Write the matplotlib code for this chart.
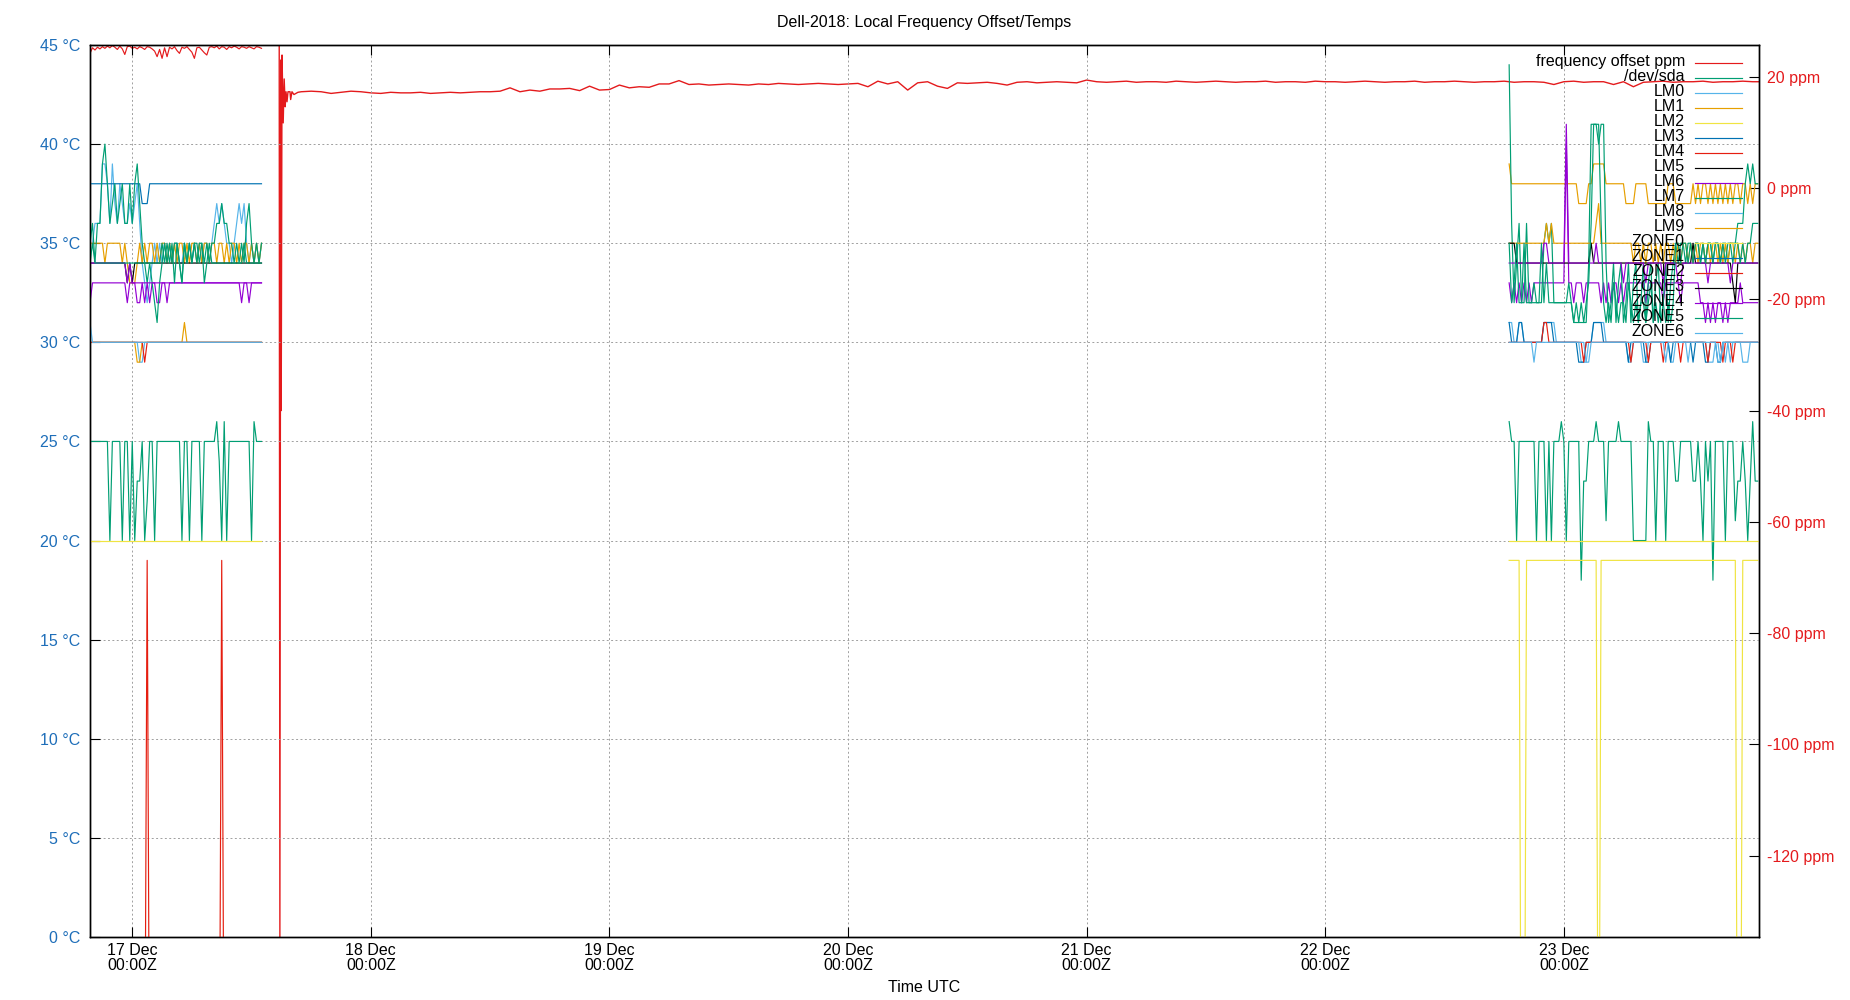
import numpy as np
import pandas as pd
import matplotlib
matplotlib.use("Agg")
import matplotlib.pyplot as plt
import matplotlib.dates as mdates
from matplotlib.lines import Line2D

plt.rcParams['font.family'] = ['Liberation Sans', 'DejaVu Sans']

def rle(pairs):
    return [v for v, n in pairs for _ in range(n)]

# ---------------- data ----------------
TITLE = "Dell-2018: Local Frequency Offset/Temps"
XLABEL = "Time UTC"
X_START = "2018-12-16 19:45"
X_END = "2018-12-23 19:38"
SEG1_START = "2018-12-16 19:45"   # first temperature/frequency block, 15 min samples
SEG2_START = "2018-12-22 18:30"   # second temperature block, 15 min samples
SPIKE_BASE = "2018-12-17 14:00"
HOURLY_START = "2018-12-17 17:00"

left_ticks = [0, 5, 10, 15, 20, 25, 30, 35, 40, 45]
right_ticks = [-120, -100, -80, -60, -40, -20, 0, 20]
ppm_range = (-134.6, 25.7)
temp_range = (0, 45)

# frequency offset (ppm)
freq_seg1 = [24.2, 25.2, 24.8, 25.3, 25.0, 25.4, 25.1, 25.5, 25.2, 25.6,
             25.3, 24.9, 25.5, 25.0, 24.0, 25.4, 25.5, 25.1, 25.3, 25.0,
             25.4, 25.2, 24.9, 25.4, 25.3, 25.0, 24.6, 23.6, 24.9, 23.3,
             25.2, 23.6, 25.3, 25.0, 25.4, 24.7, 24.2, 25.3, 25.1, 25.4,
             24.9, 24.4, 23.3, 25.2, 25.3, 24.8, 24.3, 23.9, 25.3, 25.4,
             25.2, 25.5, 25.0, 25.4, 25.3, 24.9, 25.4, 25.2, 25.5, 25.3,
             25.0, 25.4, 25.3, 25.1, 25.4, 25.2, 25.0, 25.4, 25.3, 25.1]
freq_spike_min = [47, 51, 56, 59, 64, 71, 77, 83, 88, 94, 100, 112, 116, 124, 136, 148, 160]
freq_spike = [25.5, -134.6, 23.0, -40.0, 23.9, 11.7, 19.6, 14.6, 17.3, 15.5,
              17.3, 17.3, 15.9, 17.3, 16.8, 17.0, 17.2]
freq_hourly = [17.3, 17.4, 17.3, 17.0, 17.2, 17.4, 17.3, 17.1, 17.0, 17.2,
               17.1, 17.1, 17.2, 17.0, 17.1, 17.2, 17.1, 17.2, 17.3, 17.3,
               17.4, 18.0, 17.3, 17.6, 17.4, 17.8, 17.8, 17.9, 17.5, 18.3,
               17.6, 17.7, 18.5, 18.0, 18.2, 18.1, 18.7, 18.7, 19.3, 18.6,
               18.7, 18.5, 18.6, 18.7, 18.6, 18.5, 18.7, 18.6, 18.8, 18.7,
               18.6, 18.7, 18.8, 18.7, 18.6, 18.7, 18.8, 18.2, 19.2, 18.7,
               19.1, 17.6, 18.9, 19.1, 18.3, 17.9, 18.9, 18.8, 18.9, 19.0,
               18.8, 18.5, 19.0, 19.1, 18.9, 19.0, 19.1, 19.0, 18.9, 19.4,
               19.1, 19.0, 19.1, 19.2, 19.0, 19.1, 19.1, 19.0, 19.2, 19.1,
               19.0, 19.1, 19.2, 19.1, 19.0, 19.1, 19.1, 19.2, 19.0, 19.1,
               19.1, 19.0, 19.2, 19.1, 19.1, 19.0, 19.1, 19.2, 19.1, 19.0,
               19.1, 19.1, 19.2, 19.0, 19.1, 19.1, 19.2, 19.1, 19.0, 19.1,
               19.1, 19.2, 19.0, 19.1, 19.1, 19.0, 18.6, 19.1, 19.2, 19.0,
               19.1, 19.1, 18.6, 19.1, 18.2, 19.0, 19.1, 19.2, 19.0, 19.1,
               19.1, 19.2, 19.0, 19.1, 19.1, 19.2, 19.1, 19.1]

# temperatures (deg C), block 1 and block 2
sda_1 = rle([(25, 8), (20, 1), (25, 4), (20, 1), (25, 2), (20, 1), (25, 1), (20, 1), (23, 2), (25, 1),
             (20, 1), (22, 1), (25, 2), (20, 1), (25, 10), (20, 1), (25, 2), (20, 1), (25, 4), (20, 1),
             (25, 5), (26, 1), (24, 1), (20, 1), (26, 1), (20, 1), (25, 9), (20, 1), (26, 1), (25, 3)])
sda_2 = rle([(26, 1), (25, 2), (20, 1), (25, 7), (20, 1), (25, 3), (20, 1), (25, 1), (20, 1), (25, 3),
             (26, 1), (25, 1), (20, 1), (25, 5), (18, 1), (23, 2), (25, 3), (26, 1), (25, 3), (21, 1),
             (25, 4), (26, 1), (25, 5), (20, 6), (26, 1), (25, 2), (20, 1), (25, 3), (20, 1), (25, 3),
             (23, 2), (25, 5), (23, 2), (25, 1), (23, 1), (20, 1), (25, 1), (23, 1), (25, 1), (18, 1),
             (25, 4), (20, 1), (25, 3), (21, 1), (23, 2), (25, 1), (23, 1), (20, 1), (23, 1), (26, 1),
             (23, 2)])
lm0_1 = [35, 35, 36, 36, 36, 39, 39, 38, 36, 39, 37, 36, 38, 37, 36, 36, 37, 36, 37, 38,
         36, 34, 33, 32, 33, 34, 35, 34, 35, 34, 35, 34, 35, 34, 35, 35, 34, 34, 35, 34,
         35, 34, 35, 34, 35, 34, 35, 35, 34, 35, 36, 37, 36, 37, 36, 35, 35, 34, 35, 36,
         37, 36, 37, 35, 34, 35, 34, 35, 34, 35]
lm0_2 = rle([(31, 2), (30, 2), (31, 2), (30, 8), (31, 5), (30, 10), (29, 3), (30, 2), (31, 5), (30, 9),
             (29, 2), (30, 4), (29, 2), (30, 9), (29, 2), (30, 5), (29, 1), (30, 7), (29, 3), (30, 2),
             (29, 1), (30, 1), (29, 1), (30, 1), (29, 1), (30, 4), (29, 3), (30, 4)])
lm1_1 = [35, 35, 35, 35, 35, 35, 34, 35, 35, 35, 35, 35, 35, 34, 35, 34, 33, 33, 33, 34,
         35, 34, 35, 34, 35, 35, 34, 35, 34, 35, 35, 34, 35, 34, 35, 34, 35, 35, 34, 35,
         34, 35, 35, 34, 35, 34, 35, 35, 34, 35, 35, 34, 35, 35, 34, 35, 34, 35, 35, 34,
         35, 34, 35, 35, 34, 35, 34, 35, 34, 35]
lm1_2 = rle([(39, 1), (38, 27), (37, 4), (38, 2), (39, 5), (38, 8), (37, 4), (38, 5), (37, 8), (38, 3),
             (37, 7)]) + [38, 37, 38, 37, 38, 38, 37, 38, 37, 38, 37, 38, 37, 38, 37, 38, 37, 38, 38,
                          37, 38, 38, 37, 38, 37, 38, 38]
lm2_1 = rle([(20, 70)])
lm2_2 = rle([(20, 101)])
lm3_1 = rle([(38, 21), (37, 3), (38, 46)])
lm3_2 = []
lm4_1 = rle([(-10, 23), (19, 1), (-10, 29), (19, 1), (-10, 16)])
lm4_2 = []
lm5_1 = rle([(34, 15), (33, 1), (34, 1), (33, 1), (34, 52)])
lm5_2 = []
lm6_1 = rle([(32, 1), (33, 14), (32, 1), (33, 3), (32, 2), (33, 1), (32, 1), (33, 1), (32, 1), (33, 2),
             (32, 2), (33, 2), (32, 1), (33, 29), (32, 1), (33, 2), (32, 1), (33, 5)])
lm6_2 = ([33, 32, 33, 32, 33, 32, 33, 32, 33, 32, 33] + rle([(33, 12)]) + [40] +
         [33, 33, 32, 33, 33, 33, 32, 33, 33, 33, 33, 33] +
         [33, 32, 33, 32, 33, 32, 33, 33, 32, 33, 32, 33, 33] +
         rle([(33, 6), (32, 1), (33, 6), (32, 1), (33, 6), (32, 1), (33, 7)]) +
         [32, 32, 31, 32, 31, 32, 31, 32, 32, 31, 32, 31, 32, 32, 32, 32, 33, 32, 32, 32, 32, 32, 32, 32])
lm7_1 = [35, 36, 34, 36, 36, 39, 40, 38, 36, 37, 38, 36, 37, 38, 36, 36, 38, 36, 38, 39,
         37, 35, 34, 33, 34, 33, 32, 31, 33, 34, 35, 34, 35, 34, 35, 35, 34, 33, 35, 34,
         35, 34, 35, 35, 34, 35, 34, 35, 34, 35, 35, 36, 36, 37, 36, 36, 35, 35, 34, 35,
         34, 35, 34, 36, 37, 35, 34, 35, 34, 35]
lm7_2 = [44, 36, 32, 34, 36, 32, 32, 36, 32, 32, 32, 32, 32, 32, 35, 36, 35, 36, 32, 32,
         32, 32, 32, 32, 32, 32, 31, 31, 31, 31, 31, 31, 34, 41, 41, 41, 40, 41, 41, 34,
         31, 32, 34, 31, 33, 34, 31, 32, 34, 31, 33, 34, 31, 32, 34, 31, 33, 34, 31, 33,
         34, 31, 32, 34, 31, 33, 34, 35, 34, 35, 35, 34, 35, 35, 34, 35, 35, 34, 35, 34,
         35, 35, 34, 35, 35, 34, 35, 35, 34, 35, 35, 35, 36, 36, 36, 38, 39, 38, 39, 38, 38]
lm8_1 = rle([(30, 20), (29, 2), (30, 48)])
lm8_2 = []
lm9_1 = rle([(30, 19), (29, 2), (30, 17), (31, 1), (30, 31)])
lm9_2 = rle([(35, 15), (36, 1), (35, 1), (36, 1), (35, 17), (36, 1), (37, 1), (35, 13)]) + \
    [34, 35, 35, 34, 35, 34, 35, 35, 34, 35, 34, 35, 34, 35, 35, 34, 35, 34, 35, 34, 35, 35, 34, 35, 34,
     35, 34, 35, 35, 34, 35, 34, 35, 35, 34, 35, 34, 35, 34, 35, 35, 34, 35, 34, 35, 34, 35, 35, 34, 35, 35]
zone0_1 = []
zone0_2 = rle([(19, 5), (-15, 2), (19, 29), (-15, 1), (19, 55), (-15, 2), (19, 7)])
zone1_1 = []
zone1_2 = rle([(31, 1), (30, 3), (31, 2), (30, 8), (31, 4), (30, 10), (29, 3), (30, 3), (31, 4), (30, 10),
               (29, 1), (30, 6), (29, 2), (30, 8), (29, 1), (30, 8), (29, 1), (30, 4), (29, 2), (30, 3),
               (29, 2), (30, 15)])
zone2_1 = rle([(30, 22), (29, 1), (30, 47)])
zone2_2 = rle([(30, 14), (31, 2), (30, 14), (29, 1), (30, 18), (29, 1), (30, 6), (29, 1), (30, 5), (29, 1),
               (30, 6), (29, 1), (30, 10), (29, 1), (30, 5), (29, 1), (30, 3), (29, 1), (30, 10)])
zone3_1 = []
zone3_2 = rle([(35, 3), (34, 30), (35, 1), (34, 40), (35, 1), (34, 15), (33, 1), (32, 1), (34, 9)])
zone4_1 = rle([(34, 15), (33, 1), (34, 1), (33, 53)])
zone4_2 = rle([(34, 14), (35, 2), (34, 7), (41, 1), (34, 11), (35, 1), (34, 10), (33, 1), (34, 8), (33, 1),
               (34, 6), (33, 1), (34, 5), (33, 2), (34, 10), (33, 1), (34, 8), (33, 1), (34, 11)])
zone5_1 = [34, 35, 34, 34, 34, 34, 34, 34, 34, 34, 34, 34, 34, 34, 34, 34, 34, 34, 34, 34,
           34, 34, 34, 34, 34, 34, 34, 34, 34, 35, 34, 35, 34, 35, 33, 35, 34, 33, 35, 34,
           35, 34, 35, 34, 35, 35, 33, 34, 35, 34, 34, 34, 34, 34, 34, 34, 34, 34, 34, 34,
           34, 34, 35, 34, 34, 34, 34, 34, 34, 34]
zone5_2 = [35, 32, 33, 35, 32, 32, 35, 32, 32, 32, 33, 32, 32, 35, 32, 34, 32, 32, 32, 32,
           32, 32, 32, 32, 33, 32, 31, 32, 31, 32, 31, 32, 33, 36, 41, 41, 41, 36, 32, 31,
           32, 31, 33, 32, 31, 32, 32, 31, 33, 32, 31, 32, 31, 32, 32, 31, 32, 33, 31, 32,
           31, 32, 32, 31, 32, 31, 32, 35, 35, 34, 35, 35, 34, 35, 34, 35, 35, 34, 35, 34,
           35, 35, 34, 35, 35, 34, 35, 34, 35, 35, 34, 35, 35, 34, 35, 34, 35, 35, 36, 36, 36]
zone6_1 = rle([(31, 1), (30, 69)])
zone6_2 = rle([(30, 10), (29, 1), (30, 20), (29, 2), (30, 30), (29, 1), (30, 20), (29, 2), (30, 15)])

freq_label = "frequency offset ppm"
freq_color = "#e41a1c"
temp_labels = ["/dev/sda", "LM0", "LM1", "LM2", "LM3", "LM4", "LM5", "LM6", "LM7", "LM8", "LM9",
               "ZONE0", "ZONE1", "ZONE2", "ZONE3", "ZONE4", "ZONE5", "ZONE6"]
temp_colors = ["#009e73", "#56b4e9", "#e69f00", "#f0e442", "#0072b2", "#e51e10", "#000000", "#9400d3",
               "#009e73", "#56b4e9", "#e69f00", "#f0e442", "#0072b2", "#e51e10", "#000000", "#9400d3",
               "#009e73", "#56b4e9"]
temp_seg1 = [sda_1, lm0_1, lm1_1, lm2_1, lm3_1, lm4_1, lm5_1, lm6_1, lm7_1, lm8_1, lm9_1,
             zone0_1, zone1_1, zone2_1, zone3_1, zone4_1, zone5_1, zone6_1]
temp_seg2 = [sda_2, lm0_2, lm1_2, lm2_2, lm3_2, lm4_2, lm5_2, lm6_2, lm7_2, lm8_2, lm9_2,
             zone0_2, zone1_2, zone2_2, zone3_2, zone4_2, zone5_2, zone6_2]

LEFT_COLOR = "#1e6eb9"
RIGHT_COLOR = "#e41a1c"
FS = 11.5

# ---------------- figure ----------------
W, H = 1850, 1000
fig = plt.figure(figsize=(W / 100, H / 100), dpi=100)
L, R, T, B = 90, 1759, 45, 937
ax = fig.add_axes([L / W, 1 - B / H, (R - L) / W, (B - T) / H])
ax2 = ax.twinx()
ax.set_zorder(ax2.get_zorder() + 1)
ax.patch.set_visible(False)

LW = 0.85

# frequency
t_f1 = pd.date_range(SEG1_START, periods=len(freq_seg1), freq="15min")
t_fs = pd.Timestamp(SPIKE_BASE) + pd.to_timedelta(freq_spike_min, unit="min")
t_fh = pd.date_range(HOURLY_START, periods=len(freq_hourly), freq="60min")
ax2.plot(t_f1, freq_seg1, color=freq_color, lw=LW)
ax2.plot(list(t_fs) + list(t_fh), freq_spike + freq_hourly, color=freq_color, lw=1.0)

# temperatures
for vals1, vals2, col in zip(temp_seg1, temp_seg2, temp_colors):
    if len(vals1):
        ax.plot(pd.date_range(SEG1_START, periods=len(vals1), freq="15min"), vals1, color=col, lw=LW)
    if len(vals2):
        ax.plot(pd.date_range(SEG2_START, periods=len(vals2), freq="15min"), vals2, color=col, lw=LW)

ax.set_xlim(pd.Timestamp(X_START), pd.Timestamp(X_END))
ax.set_ylim(*temp_range)
ax2.set_ylim(*ppm_range)

ax.set_yticks(left_ticks)
ax.set_yticklabels([f"{v} °C" for v in left_ticks])
ax2.set_yticks(right_ticks)
ax2.set_yticklabels([f"{v} ppm" for v in right_ticks])

ax.xaxis.set_major_locator(mdates.DayLocator())
ax.xaxis.set_major_formatter(mdates.DateFormatter("%d %b\n%H:%MZ"))

tick_len = 7.2
ax.tick_params(axis="x", which="both", direction="in", length=tick_len, width=0.8,
               top=True, bottom=True, labelsize=FS, pad=4.0, colors="black")
ax.tick_params(axis="y", direction="in", length=tick_len, width=0.8, labelsize=FS,
               labelcolor=LEFT_COLOR, color="black", pad=7.2, right=False)
ax2.tick_params(axis="y", direction="in", length=tick_len, width=0.8, labelsize=FS,
                labelcolor=RIGHT_COLOR, color="black", pad=6.0)

ax.grid(True, color="#a0a0a0", linestyle=(0, (2, 2.5)), linewidth=0.7)
ax.set_axisbelow(True)
for a in (ax, ax2):
    for s in a.spines.values():
        s.set_linewidth(1.0)
        s.set_color("black")

fig.text(((L + R) / 2) / W, 1 - 22.5 / H, TITLE, ha="center", va="center", fontsize=FS)
fig.text(((L + R) / 2) / W, 1 - 988 / H, XLABEL, ha="center", va="center", fontsize=FS)

# gnuplot style key: right-aligned text, sample line to the right
key_labels = [freq_label] + temp_labels
key_colors = [freq_color] + temp_colors
for i, (lab, col) in enumerate(zip(key_labels, key_colors)):
    y = 61.7 + 15.0 * i
    fig.text(1685 / W, 1 - y / H, lab, ha="right", va="center", fontsize=FS, zorder=10)
    fig.add_artist(Line2D([1695 / W, 1742 / W], [1 - (y + 1.5) / H] * 2, color=col, lw=LW,
                          transform=fig.transFigure, zorder=10))

fig.canvas.draw()
for t in ax.xaxis.get_major_ticks():
    t.label1.set_linespacing(1.0)
fig.savefig("out.png", dpi=100)
